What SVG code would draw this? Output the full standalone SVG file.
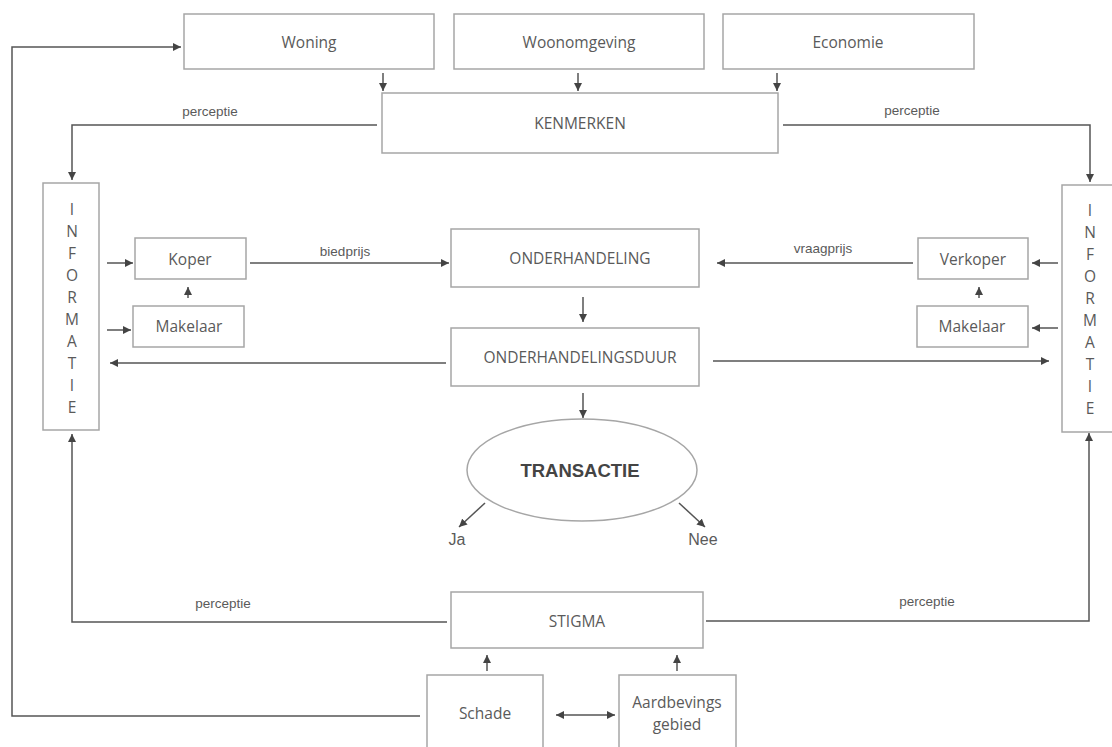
<svg xmlns="http://www.w3.org/2000/svg" width="1112" height="747" viewBox="0 0 1112 747">
<defs>
<marker id="ah" viewBox="0 0 10 10" refX="10" refY="5" markerWidth="8" markerHeight="8" markerUnits="userSpaceOnUse" orient="auto-start-reverse">
<path d="M0,0 L10,5 L0,10 z" fill="#444"/>
</marker>
<style>
.box{fill:#fff;stroke:#a6a6a6;stroke-width:1.5}
.t{font-family:"Open Sans","Liberation Sans",sans-serif;font-size:15.5px;fill:#5a5a5a;text-anchor:middle}
.l{font-family:"Liberation Sans",Arial,sans-serif;font-size:13.5px;fill:#5a5a5a;text-anchor:middle}
.c{fill:none;stroke:#555;stroke-width:1.5}
.a{fill:none;stroke:#555;stroke-width:1.5;marker-end:url(#ah)}
</style>
</defs>
<rect width="1112" height="747" fill="#fff"/>
<g id="connectors">
<path class="a" d="M383,73 V91"/>
<path class="a" d="M578,73 V91"/>
<path class="a" d="M777,73 V91"/>
<path class="a" d="M377,125 H72 V180"/>
<path class="a" d="M783,125 H1090 V182"/>
<path class="a" d="M420,716 H12 V47 H181"/>
<path class="a" d="M107,263 H133"/>
<path class="a" d="M107,330 H131"/>
<path class="a" d="M188,298 V287"/>
<path class="a" d="M250,263 H449"/>
<path class="a" d="M446,363 H110"/>
<path class="a" d="M913,263 H717"/>
<path class="a" d="M1058,263 H1032"/>
<path class="a" d="M1058,328 H1032"/>
<path class="a" d="M979,298 V287"/>
<path class="a" d="M713,361 H1049"/>
<path class="a" d="M583,297 V322"/>
<path class="a" d="M583,393 V418"/>
<path class="a" d="M485,503 L459,527"/>
<path class="a" d="M679,503 L705,527"/>
<path class="a" d="M447,622 H72 V434"/>
<path class="a" d="M706,621 H1089 V433"/>
<path class="a" d="M487,671 V655"/>
<path class="a" d="M677,671 V655"/>
<path class="a" d="M556,715 H615" marker-start="url(#ah)"/>
</g>
<g id="woning"><rect class="box" x="184" y="14" width="250" height="55"/><text class="t" x="309" y="48">Woning</text></g>
<g id="woonomgeving"><rect class="box" x="454" y="14" width="250" height="55"/><text class="t" x="579" y="48">Woonomgeving</text></g>
<g id="economie"><rect class="box" x="723" y="14" width="251" height="55"/><text class="t" x="848" y="48">Economie</text></g>
<g id="kenmerken"><rect class="box" x="382" y="93" width="396" height="60"/><text class="t" x="580" y="129">KENMERKEN</text></g>
<g id="info-left"><rect class="box" x="43" y="183" width="56" height="247"/>
<text class="t" x="72" y="215">I</text><text class="t" x="72" y="237">N</text><text class="t" x="72" y="259">F</text><text class="t" x="72" y="281">O</text><text class="t" x="72" y="303">R</text><text class="t" x="72" y="325">M</text><text class="t" x="72" y="347">A</text><text class="t" x="72" y="369">T</text><text class="t" x="72" y="391">I</text><text class="t" x="72" y="413">E</text></g>
<g id="info-right"><rect class="box" x="1062" y="185" width="56" height="247"/>
<text class="t" x="1090" y="216">I</text><text class="t" x="1090" y="238">N</text><text class="t" x="1090" y="260">F</text><text class="t" x="1090" y="282">O</text><text class="t" x="1090" y="304">R</text><text class="t" x="1090" y="326">M</text><text class="t" x="1090" y="348">A</text><text class="t" x="1090" y="370">T</text><text class="t" x="1090" y="392">I</text><text class="t" x="1090" y="414">E</text></g>
<g id="koper"><rect class="box" x="135" y="238" width="111" height="41"/><text class="t" x="190" y="265">Koper</text></g>
<g id="makelaar-left"><rect class="box" x="133" y="306" width="111" height="41"/><text class="t" x="189" y="332">Makelaar</text></g>
<g id="verkoper"><rect class="box" x="918" y="238" width="110" height="41"/><text class="t" x="973" y="265">Verkoper</text></g>
<g id="makelaar-right"><rect class="box" x="917" y="306" width="111" height="41"/><text class="t" x="972" y="332">Makelaar</text></g>
<g id="onderhandeling"><rect class="box" x="451" y="229" width="248" height="58"/><text class="t" x="580" y="264">ONDERHANDELING</text></g>
<g id="onderhandelingsduur"><rect class="box" x="451" y="328" width="248" height="58"/><text class="t" x="580" y="363">ONDERHANDELINGSDUUR</text></g>
<g id="transactie"><ellipse cx="582" cy="470" rx="115" ry="51" fill="#fff" stroke="#a6a6a6" stroke-width="1.5"/><text x="580" y="477" font-family="Liberation Sans,Arial,sans-serif" font-size="18.5" font-weight="bold" fill="#444" text-anchor="middle">TRANSACTIE</text></g>
<g id="ja"><text class="l" x="457" y="545" style="font-size:16px">Ja</text></g>
<g id="nee"><text class="l" x="703" y="545" style="font-size:16px">Nee</text></g>
<g id="stigma"><rect class="box" x="451" y="592" width="252" height="56"/><text class="t" x="577" y="627">STIGMA</text></g>
<g id="schade"><rect class="box" x="427" y="675" width="116" height="80"/><text class="t" x="485" y="719">Schade</text></g>
<g id="aardbevings"><rect class="box" x="619" y="675" width="117" height="80"/><text class="t" x="677" y="708">Aardbevings</text><text class="t" x="677" y="730">gebied</text></g>
<g id="labels">
<text class="l" x="210" y="116">perceptie</text>
<text class="l" x="912" y="115">perceptie</text>
<text class="l" x="345" y="256">biedprijs</text>
<text class="l" x="823" y="253">vraagprijs</text>
<text class="l" x="223" y="608">perceptie</text>
<text class="l" x="927" y="606">perceptie</text>
</g>
</svg>
